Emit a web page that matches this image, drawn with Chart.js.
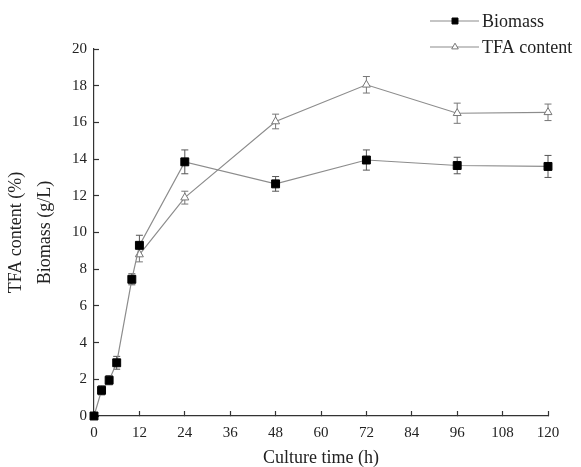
<!DOCTYPE html>
<html>
<head>
<meta charset="utf-8">
<script src="https://cdn.jsdelivr.net/npm/chart.js@4/dist/chart.umd.min.js"></script>
<style>
html,body{margin:0;padding:0;background:#fff;}
#wrap{width:581px;height:467px;}
</style>
</head>
<body>
<div id="wrap"><canvas id="c" width="581" height="467"></canvas></div>
<script>
// ---- data ----
const bioTimes = [0, 2, 4, 6, 10, 12, 24, 48, 72, 96, 120];
const bioValues = [0, 1.4, 1.95, 2.9, 7.45, 9.3, 13.85, 12.65, 13.95, 13.65, 13.6];
const bioErrors = [0.1, 0.25, 0.25, 0.35, 0.3, 0.55, 0.65, 0.4, 0.55, 0.45, 0.6];
const tfaTimes = [12, 24, 48, 72, 96, 120];
const tfaValues = [8.8, 11.9, 16.05, 18.05, 16.5, 16.55];
const tfaErrors = [0.4, 0.35, 0.4, 0.45, 0.55, 0.45];
const seriesLabels = ['Biomass', 'TFA content'];
const xTitle = 'Culture time (h)';
const yTitleLines = ['TFA content (%)', 'Biomass (g/L)'];

const SERIF = "'Liberation Serif', 'DejaVu Serif', serif";
const LINE = '#8c8c8c';
const AXIS = '#333333';

const toPts = (xs, ys) => xs.map((x, i) => ({x: x, y: ys[i]}));

const errorBars = {
  id: 'errorBars',
  beforeDatasetsDraw(chart) {
    const ctx = chart.ctx;
    const xs = chart.scales.x, ys = chart.scales.y;
    const sets = [[bioTimes, bioValues, bioErrors, '#555'], [tfaTimes, tfaValues, tfaErrors, '#777']];
    ctx.save();
    ctx.lineWidth = 1;
    sets.forEach(([t, v, e, col]) => {
      ctx.strokeStyle = col;
      t.forEach((tt, i) => {
        if (!e[i]) return;
        const px = xs.getPixelForValue(tt);
        const y1 = ys.getPixelForValue(v[i] + e[i]);
        const y2 = ys.getPixelForValue(Math.max(0, v[i] - e[i]));
        ctx.beginPath();
        ctx.moveTo(px, y1); ctx.lineTo(px, y2);
        ctx.moveTo(px - 3.5, y1); ctx.lineTo(px + 3.5, y1);
        ctx.moveTo(px - 3.5, y2); ctx.lineTo(px + 3.5, y2);
        ctx.stroke();
      });
    });
    ctx.restore();
  }
};

const customLegend = {
  id: 'customLegend',
  afterDraw(chart) {
    const ctx = chart.ctx;
    ctx.save();
    const rows = [21, 47];
    chart.data.datasets.forEach((ds, i) => {
      const y = rows[i];
      ctx.strokeStyle = LINE;
      ctx.lineWidth = 1.2;
      ctx.beginPath();
      ctx.moveTo(430, y); ctx.lineTo(479, y);
      ctx.stroke();
      ctx.fillStyle = ds.pointBackgroundColor;
      ctx.strokeStyle = ds.pointBorderColor;
      ctx.lineWidth = 1;
      ctx.beginPath();
      if (ds.pointStyle === 'rect') {
        const s = 4.2 * Math.SQRT1_2;
        ctx.rect(455 - s, y - s, 2 * s, 2 * s);
      } else {
        const r = 3.8;
        ctx.moveTo(455, y - r);
        ctx.lineTo(455 + r * 0.866, y + r * 0.5);
        ctx.lineTo(455 - r * 0.866, y + r * 0.5);
        ctx.closePath();
      }
      ctx.fill(); ctx.stroke();
      ctx.fillStyle = '#222';
      ctx.font = "18px " + SERIF;
      ctx.textAlign = 'left';
      ctx.textBaseline = 'middle';
      ctx.fillText(ds.label, 482, y + 1);
    });
    ctx.restore();
  }
};

new Chart(document.getElementById('c'), {
  type: 'line',
  data: {
    datasets: [
      {
        label: seriesLabels[0],
        data: toPts(bioTimes, bioValues),
        borderColor: LINE,
        borderWidth: 1.2,
        pointStyle: 'rect',
        pointRadius: 5.6,
        pointBackgroundColor: '#000',
        pointBorderColor: '#000',
        pointBorderWidth: 1,
        tension: 0,
        fill: false,
        clip: false
      },
      {
        label: seriesLabels[1],
        data: toPts(tfaTimes, tfaValues),
        borderColor: LINE,
        borderWidth: 1.2,
        pointStyle: 'triangle',
        pointRadius: 4.6,
        pointBackgroundColor: '#fff',
        pointBorderColor: '#777',
        pointBorderWidth: 1,
        tension: 0,
        fill: false,
        clip: false
      }
    ]
  },
  options: {
    responsive: false,
    animation: false,
    events: [],
    layout: {padding: {left: 0, right: 33, top: 49, bottom: 0}},
    plugins: {legend: {display: false}, tooltip: {enabled: false}},
    scales: {
      x: {
        type: 'linear',
        min: 0, max: 120,
        afterFit(s) { s.height = 51; },
        border: {display: true, color: AXIS, width: 1.2},
        grid: {drawOnChartArea: false, drawTicks: true, tickLength: -5, color: AXIS, tickWidth: 1.2},
        ticks: {stepSize: 12, padding: 13, color: '#222', font: {family: SERIF, size: 15}},
        title: {display: true, text: xTitle, color: '#222', font: {family: SERIF, size: 18, lineHeight: 1}, padding: {top: 0, bottom: 0}}
      },
      y: {
        min: 0, max: 20,
        afterFit(s) { s.width = 94; },
        border: {display: true, color: AXIS, width: 1.2},
        grid: {drawOnChartArea: false, drawTicks: true, tickLength: -5, color: AXIS, tickWidth: 1.2},
        ticks: {stepSize: 2, padding: 12, color: '#222', font: {family: SERIF, size: 15}},
        title: {display: true, text: yTitleLines, color: '#222', font: {family: SERIF, size: 18, lineHeight: 1.6}, padding: {top: 2, bottom: 0}}
      }
    }
  },
  plugins: [errorBars, customLegend]
});
</script>
</body>
</html>
